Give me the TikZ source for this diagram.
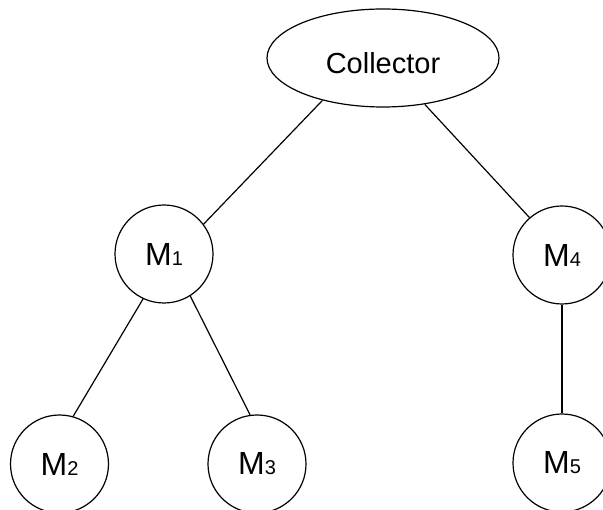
\documentclass[tikz,border=0pt]{standalone}
\usepackage{fontspec}
\setmainfont{Liberation Sans}
\usetikzlibrary{shapes.geometric}
\newcommand\msub[1]{{\fontsize{20}{24}\selectfont #1}}
\begin{document}
\begin{tikzpicture}[x=1pt,y=-1pt,
  mnode/.style={circle,draw,line width=1.2pt,minimum size=98pt,inner sep=0pt,font=\fontsize{32}{38}\selectfont},
  cnode/.style={ellipse,draw,line width=1.2pt,minimum width=232pt,minimum height=98pt,inner sep=0pt,font=\fontsize{29}{35}\selectfont},
  link/.style={line width=1.2pt}]
\useasboundingbox (0,0) rectangle (603,510);
\node[cnode] (c) at (383,58) {\raisebox{-5pt}[\height][0pt]{Collector}};
\node[mnode] (m1) at (164,254) {M\msub{1}};
\node[mnode] (m4) at (562,255) {M\msub{4}};
\node[mnode] (m2) at (59.5,464) {M\msub{2}};
\node[mnode] (m3) at (257,464) {M\msub{3}};
\node[mnode] (m5) at (562,463) {M\msub{5}};
\draw[link] (c.215) -- (m1.37.6);
\draw[link] (c.312.5) -- (m4.131.8);
\draw[link] (m1.245) -- (m2.74.3);
\draw[link] (m1.302) -- (m3.98);
\draw[link] (m4.south) -- (m5.north);
\end{tikzpicture}
\end{document}
